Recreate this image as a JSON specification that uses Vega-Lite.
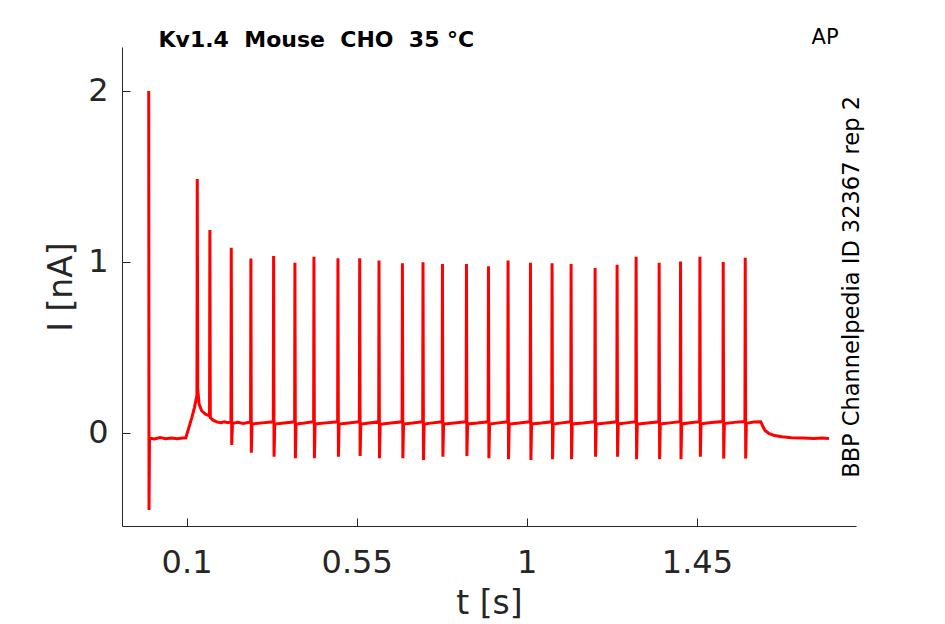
{
  "$schema": "https://vega.github.io/schema/vega-lite/v6.json",
  "width": 734,
  "height": 479,
  "autosize": {"type": "none"},
  "padding": {"left": 122, "top": 47, "right": 89, "bottom": 98},
  "background": "white",
  "config": {
    "view": {"stroke": null},
    "axis": {
      "grid": false,
      "domainColor": "#262626",
      "tickColor": "#262626",
      "labelColor": "#262626",
      "titleColor": "#262626",
      "labelFont": "DejaVu Sans",
      "titleFont": "DejaVu Sans",
      "titleFontWeight": "normal",
      "labelFontSize": 32,
      "titleFontSize": 33,
      "tickSize": -8,
      "domainWidth": 1,
      "tickWidth": 1
    }
  },
  "layer": [
    {
      "data": {
        "values": [
          {"t": 0, "i": 2.0},
          {"t": 0.0008, "i": -0.45},
          {"t": 0.002, "i": -0.03},
          {"t": 0.015, "i": -0.035},
          {"t": 0.03, "i": -0.027},
          {"t": 0.045, "i": -0.034},
          {"t": 0.06, "i": -0.029},
          {"t": 0.075, "i": -0.034},
          {"t": 0.09, "i": -0.03},
          {"t": 0.098, "i": -0.028},
          {"t": 0.106, "i": 0.03},
          {"t": 0.114, "i": 0.09},
          {"t": 0.121, "i": 0.15},
          {"t": 0.1275, "i": 0.22},
          {"t": 0.1284, "i": 1.485},
          {"t": 0.1296, "i": 0.26},
          {"t": 0.133, "i": 0.17},
          {"t": 0.14, "i": 0.13},
          {"t": 0.15, "i": 0.11},
          {"t": 0.1608, "i": 0.1},
          {"t": 0.1617, "i": 1.187},
          {"t": 0.1629, "i": 0.09},
          {"t": 0.17, "i": 0.075},
          {"t": 0.18, "i": 0.065},
          {"t": 0.19, "i": 0.06},
          {"t": 0.2, "i": 0.066},
          {"t": 0.21, "i": 0.06},
          {"t": 0.2175, "i": 0.065},
          {"t": 0.2183, "i": 1.083},
          {"t": 0.2195, "i": -0.07},
          {"t": 0.2215, "i": 0.055},
          {"t": 0.235, "i": 0.062},
          {"t": 0.25, "i": 0.056},
          {"t": 0.2694, "i": 0.064},
          {"t": 0.2702, "i": 1.02},
          {"t": 0.2714, "i": -0.115},
          {"t": 0.2732, "i": 0.052},
          {"t": 0.3, "i": 0.059},
          {"t": 0.3295, "i": 0.065},
          {"t": 0.3303, "i": 1.035},
          {"t": 0.3315, "i": -0.139},
          {"t": 0.3333, "i": 0.052},
          {"t": 0.3585, "i": 0.058},
          {"t": 0.3859, "i": 0.065},
          {"t": 0.3867, "i": 0.996},
          {"t": 0.3879, "i": -0.148},
          {"t": 0.3897, "i": 0.052},
          {"t": 0.4118, "i": 0.058},
          {"t": 0.4362, "i": 0.066},
          {"t": 0.437, "i": 1.031},
          {"t": 0.4382, "i": -0.148},
          {"t": 0.44, "i": 0.053},
          {"t": 0.4688, "i": 0.059},
          {"t": 0.4997, "i": 0.065},
          {"t": 0.5005, "i": 1.022},
          {"t": 0.5017, "i": -0.139},
          {"t": 0.5035, "i": 0.052},
          {"t": 0.529, "i": 0.058},
          {"t": 0.5572, "i": 0.066},
          {"t": 0.558, "i": 1.022},
          {"t": 0.5592, "i": -0.135},
          {"t": 0.561, "i": 0.052},
          {"t": 0.5835, "i": 0.058},
          {"t": 0.6083, "i": 0.065},
          {"t": 0.6091, "i": 1.008},
          {"t": 0.6103, "i": -0.148},
          {"t": 0.6121, "i": 0.051},
          {"t": 0.64, "i": 0.058},
          {"t": 0.6702, "i": 0.065},
          {"t": 0.671, "i": 0.992},
          {"t": 0.6722, "i": -0.148},
          {"t": 0.674, "i": 0.052},
          {"t": 0.6982, "i": 0.058},
          {"t": 0.7247, "i": 0.066},
          {"t": 0.7255, "i": 0.998},
          {"t": 0.7267, "i": -0.158},
          {"t": 0.7285, "i": 0.052},
          {"t": 0.7512, "i": 0.059},
          {"t": 0.7761, "i": 0.065},
          {"t": 0.7769, "i": 0.988},
          {"t": 0.7781, "i": -0.139},
          {"t": 0.7799, "i": 0.052},
          {"t": 0.8086, "i": 0.058},
          {"t": 0.8396, "i": 0.066},
          {"t": 0.8404, "i": 0.988},
          {"t": 0.8416, "i": -0.135},
          {"t": 0.8434, "i": 0.053},
          {"t": 0.8695, "i": 0.058},
          {"t": 0.8978, "i": 0.065},
          {"t": 0.8986, "i": 0.975},
          {"t": 0.8998, "i": -0.148},
          {"t": 0.9016, "i": 0.052},
          {"t": 0.9245, "i": 0.059},
          {"t": 0.9497, "i": 0.065},
          {"t": 0.9505, "i": 1.008},
          {"t": 0.9517, "i": -0.154},
          {"t": 0.9535, "i": 0.052},
          {"t": 0.98, "i": 0.058},
          {"t": 1.0089, "i": 0.066},
          {"t": 1.0097, "i": 0.996},
          {"t": 1.0109, "i": -0.158},
          {"t": 1.0127, "i": 0.053},
          {"t": 1.0383, "i": 0.058},
          {"t": 1.0661, "i": 0.065},
          {"t": 1.0669, "i": 0.992},
          {"t": 1.0681, "i": -0.154},
          {"t": 1.0699, "i": 0.052},
          {"t": 1.092, "i": 0.059},
          {"t": 1.1164, "i": 0.065},
          {"t": 1.1172, "i": 0.988},
          {"t": 1.1184, "i": -0.154},
          {"t": 1.1202, "i": 0.053},
          {"t": 1.149, "i": 0.058},
          {"t": 1.1799, "i": 0.066},
          {"t": 1.1807, "i": 0.965},
          {"t": 1.1819, "i": -0.139},
          {"t": 1.1837, "i": 0.052},
          {"t": 1.2098, "i": 0.058},
          {"t": 1.2381, "i": 0.065},
          {"t": 1.2389, "i": 0.984},
          {"t": 1.2401, "i": -0.139},
          {"t": 1.2419, "i": 0.053},
          {"t": 1.264, "i": 0.059},
          {"t": 1.2884, "i": 0.066},
          {"t": 1.2892, "i": 1.031},
          {"t": 1.2904, "i": -0.154},
          {"t": 1.2922, "i": 0.052},
          {"t": 1.3197, "i": 0.058},
          {"t": 1.3493, "i": 0.065},
          {"t": 1.3501, "i": 0.996},
          {"t": 1.3513, "i": -0.154},
          {"t": 1.3531, "i": 0.053},
          {"t": 1.3784, "i": 0.059},
          {"t": 1.4059, "i": 0.066},
          {"t": 1.4067, "i": 1.002},
          {"t": 1.4079, "i": -0.154},
          {"t": 1.4097, "i": 0.053},
          {"t": 1.4323, "i": 0.06},
          {"t": 1.4571, "i": 0.066},
          {"t": 1.4579, "i": 1.031},
          {"t": 1.4591, "i": -0.139},
          {"t": 1.4609, "i": 0.054},
          {"t": 1.4888, "i": 0.061},
          {"t": 1.5188, "i": 0.067},
          {"t": 1.5196, "i": 1.0},
          {"t": 1.5208, "i": -0.15},
          {"t": 1.5226, "i": 0.055},
          {"t": 1.5487, "i": 0.062},
          {"t": 1.577, "i": 0.067},
          {"t": 1.5778, "i": 1.025},
          {"t": 1.579, "i": -0.15},
          {"t": 1.5808, "i": 0.056},
          {"t": 1.6, "i": 0.064},
          {"t": 1.619, "i": 0.066},
          {"t": 1.623, "i": 0.045},
          {"t": 1.63, "i": 0.015},
          {"t": 1.64, "i": -0.002},
          {"t": 1.655, "i": -0.015},
          {"t": 1.675, "i": -0.022},
          {"t": 1.7, "i": -0.028},
          {"t": 1.73, "i": -0.03},
          {"t": 1.76, "i": -0.033},
          {"t": 1.78, "i": -0.03},
          {"t": 1.7993, "i": -0.032}
        ]
      },
      "mark": {"type": "line", "color": "#ff0000", "strokeWidth": 3, "clip": true},
      "encoding": {
        "x": {
          "field": "t",
          "type": "quantitative",
          "title": "t [s]",
          "scale": {"domain": [-0.0707, 1.8708], "nice": false, "zero": false},
          "axis": {"values": [0.1, 0.55, 1, 1.45], "format": ".3~g", "labelPadding": 29, "titlePadding": 9}
        },
        "y": {
          "field": "i",
          "type": "quantitative",
          "title": "I [nA]",
          "scale": {"domain": [-0.544, 2.257], "nice": false, "zero": false},
          "axis": {"values": [0, 1, 2], "format": ".3~g", "labelPadding": 22, "titlePadding": 9}
        }
      }
    },
    {
      "data": {"values": [{"t": 0.026, "i": 2.257, "label": "Kv1.4 \u00a0Mouse \u00a0CHO \u00a035 °C"}]},
      "mark": {"type": "text", "font": "DejaVu Sans", "fontSize": 22, "fontWeight": "bold", "color": "#000000", "align": "left", "baseline": "alphabetic"},
      "encoding": {
        "x": {"field": "t", "type": "quantitative"},
        "y": {"field": "i", "type": "quantitative"},
        "text": {"field": "label"}
      }
    },
    {
      "data": {"values": [{"t": 1.789, "i": 2.31, "label": "AP"}]},
      "mark": {"type": "text", "font": "DejaVu Sans", "fontSize": 21, "color": "#000000", "align": "center", "baseline": "middle"},
      "encoding": {
        "x": {"field": "t", "type": "quantitative"},
        "y": {"field": "i", "type": "quantitative"},
        "text": {"field": "label"}
      }
    },
    {
      "data": {"values": [{"t": 1.861, "i": 0.854, "label": "BBP Channelpedia ID 32367 rep 2"}]},
      "mark": {"type": "text", "font": "DejaVu Sans", "fontSize": 22.5, "color": "#000000", "align": "center", "baseline": "middle", "angle": 270},
      "encoding": {
        "x": {"field": "t", "type": "quantitative"},
        "y": {"field": "i", "type": "quantitative"},
        "text": {"field": "label"}
      }
    }
  ]
}
